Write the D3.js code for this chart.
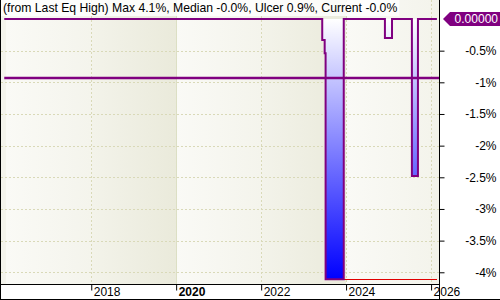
<!DOCTYPE html>
<html>
<head>
<meta charset="utf-8">
<script src="https://cdnjs.cloudflare.com/ajax/libs/d3/7.8.5/d3.min.js"></script>
<style>
  body { margin: 0; background: #fff; }
  svg { display: block; font-family: "Liberation Sans", Arial, sans-serif; }
</style>
</head>
<body>
<div id="chart"></div>
<script>
// drawdown from last equity high, in percent (step series)
var ddDates = ["2015-12-15", "2023-06-10", "2023-07-01", "2023-07-09", "2023-12-12",
               "2024-11-30", "2025-01-30", "2025-07-20", "2025-09-10", "2026-02-20"];
var ddValues = [0, -0.33, -0.54, -4.11, 0, -0.30, 0, -2.48, 0, 0];

var ulcerLevel = -0.93;
var maxDD = -4.11;
var maxDDFrom = "2023-12-12";

var yTicks = [-0.5, -1, -1.5, -2, -2.5, -3, -3.5, -4];
var yTickLabels = ["-0.5%", "-1%", "-1.5%", "-2%", "-2.5%", "-3%", "-3.5%", "-4%"];
var xTickYears = [2018, 2020, 2022, 2024, 2026];
var bandYears = [2016, 2018, 2020, 2022, 2024, 2026];

var legendText = "(from Last Eq High) Max 4.1%, Median -0.0%, Ulcer 0.9%, Current -0.0%";
var currentLabel = "0.00000";

function plotDrawdown(containerId) {
    var WIDTH = 500;
    var HEIGHT = 300;
    var PLOT = {left: 1, right: 439, top: 0, bottom: 284};

    var parse = d3.timeParse("%Y-%m-%d");
    var data = ddDates.map(function(d, i) { return {date: parse(d), value: ddValues[i]}; });

    var svg = d3.select('#' + containerId).append("svg")
        .attr("width", WIDTH)
        .attr("height", HEIGHT);

    var xScale = d3.scaleTime()
        .domain([new Date(2015, 10, 17), new Date(2026, 2, 10)])
        .range([PLOT.left, PLOT.right]);
    var yScale = d3.scaleLinear()
        .domain([-4.185, 0.30])
        .range([PLOT.bottom, PLOT.top]);

    var defs = svg.append("defs");

    // background band gradients
    var light = defs.append("linearGradient").attr("id", "bgLight");
    light.append("stop").attr("offset", "0%").attr("stop-color", "#fafaf6");
    light.append("stop").attr("offset", "100%").attr("stop-color", "#f4f4ec");
    var dark = defs.append("linearGradient").attr("id", "bgDark");
    dark.append("stop").attr("offset", "0%").attr("stop-color", "#f3f3ea");
    dark.append("stop").attr("offset", "100%").attr("stop-color", "#eaeadb");

    var fillGrad = defs.append("linearGradient")
        .attr("id", "ddFill")
        .attr("gradientUnits", "userSpaceOnUse")
        .attr("x1", 0).attr("x2", 0)
        .attr("y1", yScale(0)).attr("y2", yScale(maxDD));
    fillGrad.append("stop").attr("offset", "0%").attr("stop-color", "#ffffff");
    fillGrad.append("stop").attr("offset", "100%").attr("stop-color", "#0000ff");

    defs.append("clipPath").attr("id", "plotClip")
        .append("rect")
        .attr("x", PLOT.left).attr("y", PLOT.top)
        .attr("width", PLOT.right - PLOT.left)
        .attr("height", PLOT.bottom - PLOT.top);

    var plot = svg.append("g").attr("clip-path", "url(#plotClip)");

    // background bands, one per two years
    plot.selectAll("rect.band")
        .data(bandYears)
        .enter().append("rect")
        .attr("class", "band")
        .attr("x", function(d) { return xScale(new Date(d, 0, 1)); })
        .attr("y", PLOT.top)
        .attr("width", function(d) { return xScale(new Date(d + 2, 0, 1)) - xScale(new Date(d, 0, 1)); })
        .attr("height", PLOT.bottom - PLOT.top)
        .attr("fill", function(d) { return (d % 4 === 2) ? "url(#bgDark)" : "url(#bgLight)"; });
    plot.append("rect")
        .attr("x", PLOT.left).attr("y", PLOT.top)
        .attr("width", xScale(new Date(2016, 0, 1)) - PLOT.left)
        .attr("height", PLOT.bottom - PLOT.top)
        .attr("fill", "#f4f4ec");

    // grid
    plot.selectAll("line.hgrid")
        .data(yTicks)
        .enter().append("line")
        .attr("x1", PLOT.left).attr("x2", PLOT.right)
        .attr("y1", function(d) { return Math.round(yScale(d)) + 0.5; })
        .attr("y2", function(d) { return Math.round(yScale(d)) + 0.5; })
        .style("stroke", "#d9d9b8")
        .style("stroke-dasharray", "2,2");
    plot.selectAll("line.vgrid")
        .data(xTickYears)
        .enter().append("line")
        .attr("x1", function(d) { return Math.round(xScale(new Date(d, 0, 1))) + 0.5; })
        .attr("x2", function(d) { return Math.round(xScale(new Date(d, 0, 1))) + 0.5; })
        .attr("y1", PLOT.top).attr("y2", PLOT.bottom)
        .style("stroke", function(d) { return d === 2020 ? "#dcdfc4" : "#d9d9b8"; })
        .style("stroke-dasharray", function(d) { return d === 2020 ? null : "2,2"; });

    // drawdown area
    var area = d3.area()
        .curve(d3.curveStepAfter)
        .x(function(d) { return xScale(d.date); })
        .y0(yScale(0))
        .y1(function(d) { return yScale(d.value); });
    var line = d3.line()
        .curve(d3.curveStepAfter)
        .x(function(d) { return xScale(d.date); })
        .y(function(d) { return yScale(d.value); });

    plot.append("path")
        .datum(data)
        .attr("d", area)
        .style("fill", "url(#ddFill)");

    // ulcer level line
    plot.append("line")
        .attr("x1", xScale(data[0].date)).attr("x2", PLOT.right)
        .attr("y1", yScale(ulcerLevel)).attr("y2", yScale(ulcerLevel))
        .style("stroke", "#800080")
        .style("stroke-width", 2.5);

    // max drawdown line
    plot.append("line")
        .attr("x1", xScale(parse(maxDDFrom))).attr("x2", PLOT.right - 2)
        .attr("y1", Math.round(yScale(maxDD)) + 0.5).attr("y2", Math.round(yScale(maxDD)) + 0.5)
        .style("stroke", "#e00000")
        .style("stroke-width", 1);

    plot.append("path")
        .datum(data)
        .attr("d", line)
        .style("fill", "none")
        .style("stroke", "#800080")
        .style("stroke-width", 2);

    // legend
    var legend = svg.append("g");
    var legendBg = legend.append("rect").attr("fill", "#ffffff").attr("fill-opacity", 0.8);
    var lt = legend.append("text")
        .attr("x", 3).attr("y", 12)
        .style("font-size", "12.2px")
        .style("fill", "#000")
        .text(legendText);
    var bb = lt.node().getBBox();
    legendBg.attr("x", 1).attr("y", 0).attr("width", bb.width + 4).attr("height", 16);

    // frame and axis lines
    svg.append("line").attr("x1", 0.5).attr("x2", 0.5).attr("y1", 0).attr("y2", HEIGHT)
        .style("stroke", "#000");
    svg.append("line").attr("x1", 0).attr("x2", WIDTH).attr("y1", HEIGHT - 0.5).attr("y2", HEIGHT - 0.5)
        .style("stroke", "#000");

    var xAxis = d3.axisBottom(xScale)
        .tickValues(xTickYears.map(function(d) { return new Date(d, 0, 1); }))
        .tickSize(6)
        .tickFormat(d3.timeFormat("%Y"));
    var gx = svg.append("g")
        .attr("transform", "translate(0," + (PLOT.bottom + 0.5) + ")")
        .call(xAxis);
    gx.select(".domain").attr("d", "M0,0H" + (PLOT.right + 0.5)).style("stroke", "#000");
    gx.selectAll(".tick text")
        .attr("text-anchor", "start")
        .attr("x", 2)
        .attr("y", 3)
        .style("font-family", "Liberation Sans, Arial, sans-serif")
        .style("font-size", "12px")
        .style("fill", "#000")
        .style("font-weight", function(d) { return d.getFullYear() === 2020 ? "bold" : "normal"; });

    var yAxis = d3.axisRight(yScale)
        .tickValues(yTicks)
        .tickSize(5)
        .tickFormat(function(d, i) { return yTickLabels[i]; });
    var gy = svg.append("g")
        .attr("transform", "translate(" + (PLOT.right + 0.5) + ",0)")
        .call(yAxis);
    gy.select(".domain").attr("d", "M0,0V" + HEIGHT).style("stroke", "#000");
    gy.selectAll(".tick text")
        .attr("text-anchor", "end")
        .attr("x", 57)
        .style("font-family", "Liberation Sans, Arial, sans-serif")
        .style("font-size", "12px")
        .style("fill", "#000");

    // current value marker
    var cy = yScale(0);
    var marker = svg.append("g").attr("transform", "translate(" + (PLOT.right + 4) + "," + cy + ")");
    marker.append("path")
        .attr("d", "M0,0L7,-7H57V7H7Z")
        .style("fill", "#800080");
    marker.append("text")
        .attr("x", 55).attr("y", 4.5)
        .attr("text-anchor", "end")
        .style("font-size", "12px")
        .style("fill", "#fff")
        .text(currentLabel);
}

plotDrawdown("chart");
</script>
</body>
</html>
